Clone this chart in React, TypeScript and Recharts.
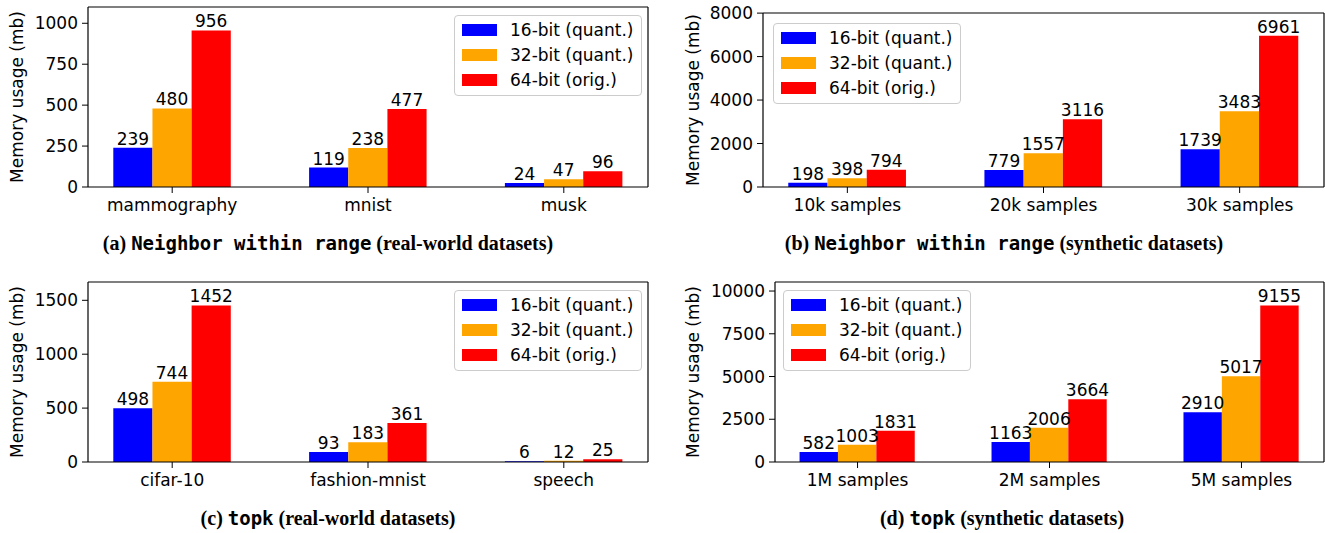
import React from "react";
import { BarChart, Bar, XAxis, YAxis, LabelList } from "recharts";

const realCats = ["mammography", "mnist", "musk"];
const real16 = [239, 119, 24];
const real32 = [480, 238, 47];
const real64 = [956, 477, 96];

const synCats = ["10k samples", "20k samples", "30k samples"];
const syn16 = [198, 779, 1739];
const syn32 = [398, 1557, 3483];
const syn64 = [794, 3116, 6961];

const topkRealCats = ["cifar-10", "fashion-mnist", "speech"];
const topkReal16 = [498, 93, 6];
const topkReal32 = [744, 183, 12];
const topkReal64 = [1452, 361, 25];

const topkSynCats = ["1M samples", "2M samples", "5M samples"];
const topkSyn16 = [582, 1163, 2910];
const topkSyn32 = [1003, 2006, 5017];
const topkSyn64 = [1831, 3664, 9155];

const ticksA = [0, 250, 500, 750, 1000];
const ticksB = [0, 2000, 4000, 6000, 8000];
const ticksC = [0, 500, 1000, 1500];
const ticksD = [0, 2500, 5000, 7500, 10000];

const seriesNames = ["16-bit (quant.)", "32-bit (quant.)", "64-bit (orig.)"];
const seriesColors = ["#0000ff", "#ffa500", "#ff0000"];

const FONT = "'DejaVu Sans', sans-serif";
const FS = 17;

const LegendBox = ({ style }: { style: React.CSSProperties }) => (
  <div
    style={{
      position: "absolute",
      border: "1px solid #cccccc",
      borderRadius: 4,
      background: "rgba(255,255,255,0.85)",
      padding: "1px 8px 3px 7px",
      fontFamily: FONT,
      fontSize: FS,
      color: "#000",
      ...style,
    }}
  >
    {seriesNames.map((n, i) => (
      <div key={n} style={{ display: "flex", alignItems: "center", height: 25, whiteSpace: "nowrap" }}>
        <span style={{ display: "inline-block", width: 35, height: 12, background: seriesColors[i], marginRight: 13 }} />
        <span>{n}</span>
      </div>
    ))}
  </div>
);

type PanelProps = {
  x0: number;
  y0: number;
  width: number;
  yAxisW: number;
  mTop: number;
  mRight: number;
  cats: string[];
  s16: number[];
  s32: number[];
  s64: number[];
  ticks: number[];
  legendPos: React.CSSProperties;
  yLabelX: number;
  caption: React.ReactNode;
  captionX: number;
};

const H = 230;
const XH = 40;
const MB = 3;

const Panel = (p: PanelProps) => {
  const data = p.cats.map((c, i) => ({ name: c, b16: p.s16[i], b32: p.s32[i], b64: p.s64[i] }));
  const yMax = Math.max(...p.s64) * 1.15;
  // top axis takes 1px, right axis takes 1px
  const plotW = p.width - p.mRight - 1 - p.yAxisW;
  const unit = plotW / 2.86;
  const pad = (plotW - 3 * unit) / 2;
  const barSize = unit * 0.2;
  const plotTop = p.mTop + 1;
  const plotBottom = H - MB - XH;
  const tickStyle = { fontFamily: FONT, fontSize: FS, fill: "#000" };
  const frame = { stroke: "#000", strokeWidth: 1.2 };
  const keys = ["b16", "b32", "b64"];
  return (
    <div style={{ position: "absolute", left: p.x0, top: p.y0, width: p.width, height: 270 }}>
      <BarChart
        width={p.width}
        height={H}
        data={data}
        barGap={0}
        barSize={barSize}
        margin={{ top: p.mTop, right: p.mRight, left: 0, bottom: MB }}
      >
        <XAxis
          xAxisId="x"
          dataKey="name"
          padding={{ left: pad, right: pad }}
          height={XH}
          tick={tickStyle}
          tickSize={6}
          tickMargin={6}
          axisLine={frame}
          tickLine={{ stroke: "#000" }}
          interval={0}
        />
        <XAxis xAxisId="top" dataKey="name" orientation="top" height={1} tick={false} tickLine={false} axisLine={frame} />
        <YAxis
          yAxisId="y"
          width={p.yAxisW}
          domain={[0, yMax]}
          ticks={p.ticks}
          tick={tickStyle}
          tickSize={6}
          tickMargin={4}
          axisLine={frame}
          tickLine={{ stroke: "#000" }}
          allowDataOverflow
        />
        <YAxis yAxisId="r" orientation="right" width={1} tick={false} tickLine={false} axisLine={frame} />
        {keys.map((k, i) => (
          <Bar key={k} dataKey={k} name={seriesNames[i]} xAxisId="x" yAxisId="y" fill={seriesColors[i]} isAnimationActive={false}>
            <LabelList dataKey={k} position="top" offset={3} style={{ fontFamily: FONT, fontSize: FS, fill: "#000" }} />
          </Bar>
        ))}
      </BarChart>
      <LegendBox style={p.legendPos} />
      <div
        style={{
          position: "absolute",
          left: p.yLabelX,
          top: (plotTop + plotBottom) / 2,
          transform: "translate(-50%, -50%) rotate(-90deg)",
          whiteSpace: "nowrap",
          fontFamily: FONT,
          fontSize: FS,
          color: "#000",
        }}
      >
        Memory usage (mb)
      </div>
      <div
        style={{
          position: "absolute",
          left: p.captionX - 330,
          width: 660,
          top: 231,
          textAlign: "center",
          fontFamily: "'Liberation Serif', serif",
          fontWeight: "bold",
          fontSize: 20,
          lineHeight: "24px",
          color: "#000",
          whiteSpace: "nowrap",
        }}
      >
        {p.caption}
      </div>
    </div>
  );
};

const Mono = ({ children }: { children: React.ReactNode }) => (
  <span style={{ fontFamily: "'DejaVu Sans Mono', monospace", fontWeight: "bold", fontSize: 19 }}>{children}</span>
);

export default function App() {
  return (
    <div style={{ position: "absolute", left: 0, top: 0, width: 1325, height: 533, background: "#fff", overflow: "hidden" }}>
      <Panel
        x0={0} y0={0} width={660} yAxisW={88} mTop={6} mRight={11}
        cats={realCats} s16={real16} s32={real32} s64={real64} ticks={ticksA}
        legendPos={{ left: 454, top: 15 }}
        yLabelX={17}
        captionX={328}
        caption={<>(a) <Mono>Neighbor within range</Mono> (real-world datasets)</>}
      />
      <Panel
        x0={675} y0={0} width={650} yAxisW={88} mTop={12} mRight={0}
        cats={synCats} s16={syn16} s32={syn32} s64={syn64} ticks={ticksB}
        legendPos={{ left: 98, top: 23 }}
        yLabelX={18}
        captionX={329}
        caption={<>(b) <Mono>Neighbor within range</Mono> (synthetic datasets)</>}
      />
      <Panel
        x0={0} y0={275} width={660} yAxisW={88} mTop={6} mRight={11}
        cats={topkRealCats} s16={topkReal16} s32={topkReal32} s64={topkReal64} ticks={ticksC}
        legendPos={{ left: 454, top: 15 }}
        yLabelX={17}
        captionX={328}
        caption={<>(c) <Mono>topk</Mono> (real-world datasets)</>}
      />
      <Panel
        x0={675} y0={275} width={650} yAxisW={100} mTop={6} mRight={0}
        cats={topkSynCats} s16={topkSyn16} s32={topkSyn32} s64={topkSyn64} ticks={ticksD}
        legendPos={{ left: 108, top: 15 }}
        yLabelX={18}
        captionX={327}
        caption={<>(d) <Mono>topk</Mono> (synthetic datasets)</>}
      />
    </div>
  );
}
